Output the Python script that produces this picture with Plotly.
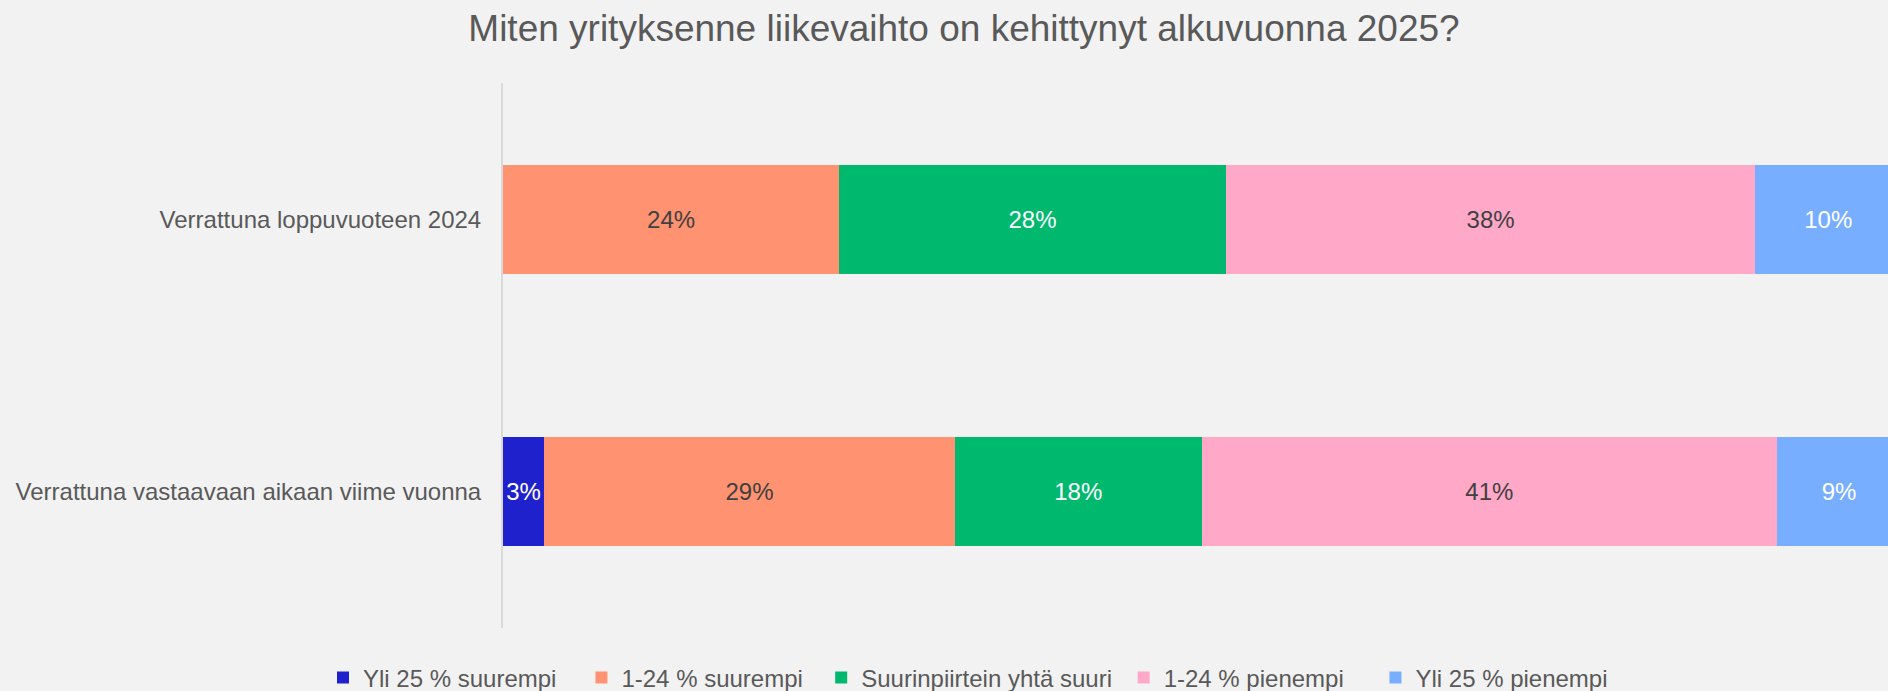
import plotly.graph_objects as go

categories = ["Verrattuna loppuvuoteen 2024", "Verrattuna vastaavaan aikaan viime vuonna"]
series_names = ["Yli 25 % suurempi", "1-24 % suurempi", "Suurinpiirtein yhtä suuri",
                "1-24 % pienempi", "Yli 25 % pienempi"]
yli25_suurempi = [0.0, 2.95]
suurempi_1_24 = [24.05, 29.37]
yhta_suuri = [27.65, 17.65]
pienempi_1_24 = [37.89, 41.17]
yli25_pienempi = [10.41, 8.86]
series_values = [yli25_suurempi, suurempi_1_24, yhta_suuri, pienempi_1_24, yli25_pienempi]

# styling
colors = ["#1F22CC", "#FF9270", "#00B86E", "#FFA8C8", "#78AEFF"]
text_colors = ["#FFFFFF", "#404040", "#FFFFFF", "#404040", "#FFFFFF"]
legend_pad = [3, 2, 1, 4, 0]  # trailing non-breaking spaces for legend spacing

FONT = "Liberation Sans, Arial, sans-serif"
GREY = "#595959"

fig = go.Figure()
for name, vals, col, tcol, pad in zip(series_names, series_values, colors, text_colors, legend_pad):
    fig.add_trace(go.Bar(
        y=categories, x=vals, name=name + "\u00a0" * pad, orientation="h",
        marker=dict(color=col, line=dict(width=0)),
        text=[f"{v:.0f}%" if v > 0 else "" for v in vals],
        textposition="inside", insidetextanchor="middle",
        textfont=dict(family=FONT, size=24, color=tcol),
        cliponaxis=True,
    ))

fig.update_layout(
    barmode="stack",
    bargap=0.6,
    width=1888, height=691,
    paper_bgcolor="#F2F2F2", plot_bgcolor="#F2F2F2",
    margin=dict(l=503, r=0, t=83, b=63),
    font=dict(family=FONT, size=24, color=GREY),
    title=dict(text="Miten yrityksenne liikevaihto on kehittynyt alkuvuonna 2025?",
               font=dict(family=FONT, size=37, color=GREY),
               x=964 / 1888, xref="container", xanchor="center",
               y=1 - 28.5 / 691, yref="container", yanchor="middle"),
    legend=dict(orientation="h", traceorder="normal",
                font=dict(family=FONT, size=24, color=GREY),
                xref="container", x=968 / 1888, xanchor="center",
                yref="container", y=(691 - 678) / 691, yanchor="middle",
                bgcolor="rgba(0,0,0,0)"),
    showlegend=True,
)
fig.update_xaxes(range=[0, 99.07], showgrid=False, zeroline=False, showticklabels=False,
                 showline=False, ticks="")
fig.update_yaxes(autorange="reversed", showgrid=False, zeroline=False,
                 showline=True, linecolor="#D9D9D9", linewidth=2, ticks="",
                 ticklabelstandoff=15,
                 tickfont=dict(family=FONT, size=24, color=GREY))

fig.write_html("out.html")
